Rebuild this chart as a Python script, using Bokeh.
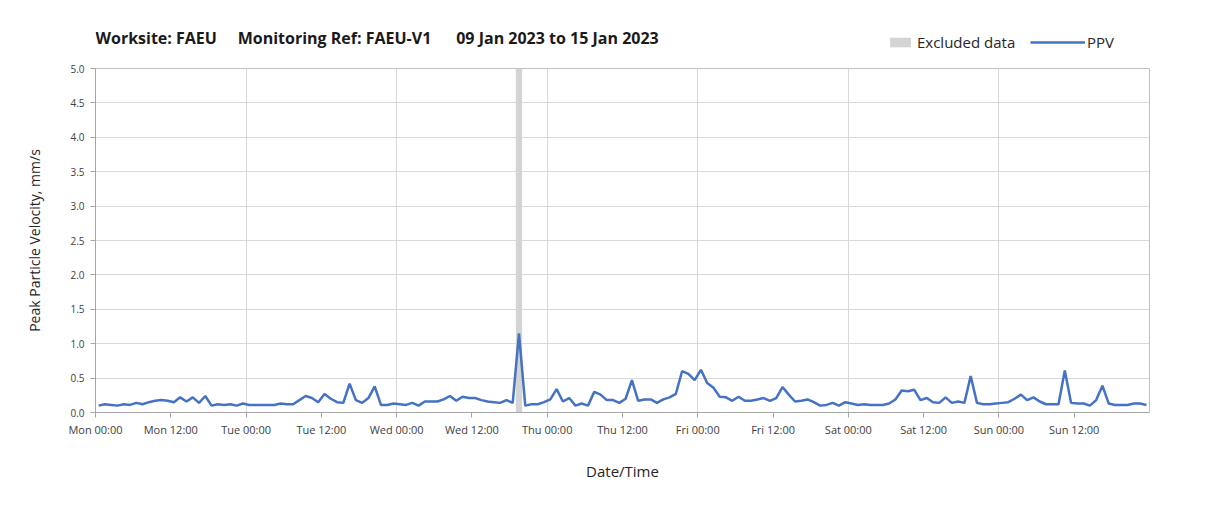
import pandas as pd
from bokeh.plotting import figure
from bokeh.layouts import column
from bokeh.models import (Legend, LegendItem, FixedTicker, DatetimeTickFormatter,
                          ColumnDataSource, NumeralTickFormatter, Label)
from bokeh.embed import file_html
from bokeh.resources import INLINE

# ---- data ----
start_time = "2023-01-09 00:30"   # hourly samples, Mon 00:30 ... Sun 23:30
ppv = [
    0.10, 0.12, 0.11, 0.10, 0.12, 0.11, 0.14, 0.12, 0.15, 0.17, 0.18, 0.17,
    0.15, 0.22, 0.16, 0.22, 0.14, 0.24, 0.10, 0.12, 0.11, 0.12, 0.10, 0.13,
    0.11, 0.11, 0.11, 0.11, 0.11, 0.13, 0.12, 0.12, 0.18, 0.24, 0.21, 0.15,
    0.27, 0.20, 0.15, 0.14, 0.42, 0.18, 0.14, 0.21, 0.38, 0.11, 0.11, 0.13,
    0.12, 0.11, 0.14, 0.10, 0.16, 0.16, 0.16, 0.19, 0.24, 0.17, 0.23, 0.21,
    0.21, 0.18, 0.16, 0.15, 0.14, 0.18, 0.14, 1.15, 0.10, 0.12, 0.12, 0.15,
    0.19, 0.34, 0.16, 0.21, 0.10, 0.13, 0.10, 0.30, 0.26, 0.18, 0.18, 0.14,
    0.20, 0.47, 0.17, 0.19, 0.19, 0.14, 0.19, 0.22, 0.27, 0.60, 0.56, 0.47,
    0.62, 0.43, 0.36, 0.23, 0.22, 0.17, 0.23, 0.17, 0.17, 0.19, 0.21, 0.17,
    0.21, 0.37, 0.26, 0.16, 0.17, 0.19, 0.15, 0.10, 0.11, 0.14, 0.10, 0.15,
    0.13, 0.11, 0.12, 0.11, 0.11, 0.11, 0.13, 0.19, 0.32, 0.31, 0.33, 0.18,
    0.21, 0.15, 0.14, 0.22, 0.14, 0.16, 0.14, 0.53, 0.14, 0.12, 0.12, 0.13,
    0.14, 0.15, 0.20, 0.26, 0.18, 0.22, 0.16, 0.12, 0.12, 0.12, 0.61, 0.14,
    0.13, 0.13, 0.10, 0.18, 0.39, 0.13, 0.11, 0.11, 0.11, 0.13, 0.13, 0.11,
]
excluded_start = ["2023-01-11 19:00"]
excluded_end = ["2023-01-11 20:00"]
x_start, x_end = "2023-01-09 00:00", "2023-01-16 00:00"
y_ticks = [0.0, 0.5, 1.0, 1.5, 2.0, 2.5, 3.0, 3.5, 4.0, 4.5, 5.0]
NB = "\u00a0"
title_text = ("Worksite: FAEU" + NB * 5 + "Monitoring Ref: FAEU-V1" + NB * 6
              + "09 Jan 2023 to 15 Jan 2023")

times = pd.date_range(start_time, periods=len(ppv), freq="h")
src = ColumnDataSource(dict(t=times, v=ppv))
exc = ColumnDataSource(dict(l=pd.to_datetime(excluded_start), r=pd.to_datetime(excluded_end),
                            b=[0.0], tp=[5.0]))

FONT = "Open Sans"
TXT = "#404040"
LINE_COLOR = "#4472C4"
EXC_COLOR = "#d4d4d4"
HEADER_H = 56

# ---- main chart ----
p = figure(x_axis_type="datetime", frame_width=1054, frame_height=344,
           min_border_left=95, min_border_right=51, min_border_top=68 - HEADER_H,
           min_border_bottom=90,
           x_range=(pd.Timestamp(x_start), pd.Timestamp(x_end)), y_range=(0, 5),
           output_backend="svg", toolbar_location=None,
           background_fill_color="white", border_fill_color="white")
p.outline_line_color = "#bfbfbf"

p.quad(left="l", right="r", bottom="b", top="tp", source=exc,
       fill_color=EXC_COLOR, line_color=None)
p.line("t", "v", source=src, line_color=LINE_COLOR, line_width=2.5)

t0 = pd.Timestamp(x_start).value // 10**6
tick_ms = [t0 + k * 12 * 3600 * 1000 for k in range(14)]
day_ms = [t0 + k * 24 * 3600 * 1000 for k in range(8)]
p.xaxis.ticker = FixedTicker(ticks=tick_ms)
p.xaxis.formatter = DatetimeTickFormatter(hours="%a %H:%M", days="%a %H:%M",
                                          hourmin="%a %H:%M", minutes="%a %H:%M")
p.xgrid.ticker = FixedTicker(ticks=day_ms)
p.yaxis.ticker = FixedTicker(ticks=y_ticks)
p.yaxis.formatter = NumeralTickFormatter(format="0.0")

for ax in (p.xaxis[0], p.yaxis[0]):
    ax.axis_line_color = "#a6a6a6"
    ax.major_tick_line_color = "#a6a6a6"
    ax.minor_tick_line_color = None
    ax.major_tick_in = 0
    ax.major_tick_out = 5
    ax.major_label_text_font = FONT
    ax.major_label_text_color = TXT
    ax.axis_label_text_font = FONT
    ax.axis_label_text_font_style = "normal"
    ax.axis_label_text_color = "#262626"

p.xaxis.major_label_text_font_size = "11px"
p.yaxis.major_label_text_font_size = "10px"
p.xaxis.axis_label = "Date/Time"
p.xaxis.axis_label_text_font_size = "15px"
p.xaxis.axis_label_standoff = 21
p.yaxis.axis_label = "Peak Particle Velocity, mm/s"
p.yaxis.axis_label_text_font_size = "14px"
p.yaxis.axis_label_standoff = 23
p.xaxis.major_label_standoff = 4
p.yaxis.major_label_standoff = 6
p.xgrid.grid_line_color = "#d9d9d9"
p.ygrid.grid_line_color = "#d9d9d9"

# ---- header strip: title + legend (series renderers drawn off-range, used for legend glyphs) ----
# the column layout aligns this strip's frame with the chart frame (left edge at x=95)
h = figure(width=1200, height=HEADER_H, x_range=(0, 1), y_range=(0, 1),
           x_axis_location=None, y_axis_location=None, min_border=0,
           output_backend="svg", toolbar_location=None,
           background_fill_color="white", border_fill_color="white")
h.outline_line_color = None
h.xgrid.visible = False
h.ygrid.visible = False
h_exc = h.quad(left="l", right="r", bottom="b", top="tp", source=exc,
               fill_color=EXC_COLOR, line_color=None)
h_line = h.line("t", "v", source=src, line_color=LINE_COLOR, line_width=2.5)

h.add_layout(Label(x=0, y=HEADER_H - 37, x_units="screen", y_units="screen",
                   text=title_text, text_font=FONT, text_font_size="16px",
                   text_font_style="bold", text_color="#1a1a1a",
                   text_baseline="middle", text_align="left"))

def mk_legend(items, loc, gw, gh, standoff):
    lg = Legend(items=items, location=loc, orientation="horizontal",
                glyph_width=gw, glyph_height=gh, label_standoff=standoff,
                padding=0, margin=0, spacing=0,
                border_line_color=None, background_fill_alpha=0,
                label_text_font=FONT, label_text_font_size="15px",
                label_text_color="#262626", label_height=20)
    h.add_layout(lg, "center")
    return lg

mk_legend([LegendItem(label="Excluded data", renderers=[h_exc])], (792, HEADER_H - 52), 26, 12, 4)
mk_legend([LegendItem(label="PPV", renderers=[h_line])], (935, HEADER_H - 52), 55, 12, 2)

open("out.html", "w").write(file_html(column(h, p, spacing=0), INLINE))
